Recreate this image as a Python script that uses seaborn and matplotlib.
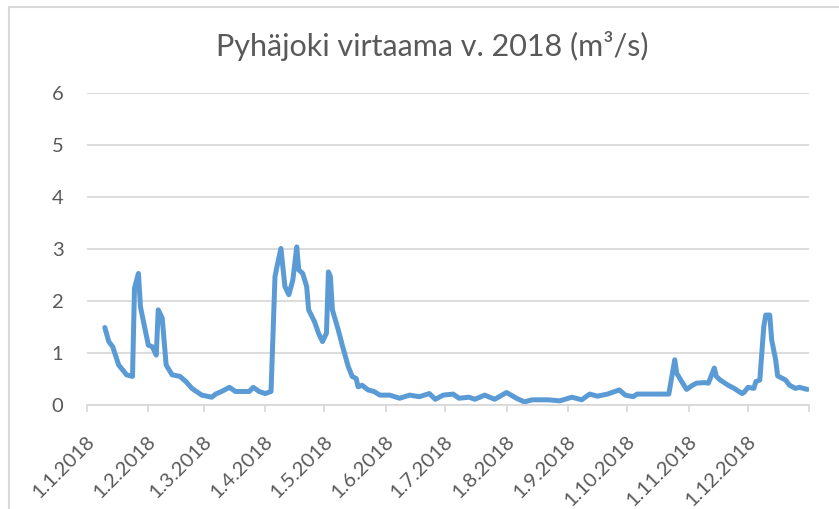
import matplotlib
matplotlib.use("Agg")
import matplotlib.pyplot as plt
import matplotlib.transforms as mtransforms
from matplotlib.lines import Line2D
import pandas as pd
import seaborn as sns

# Daily discharge readings (m³/s), Pyhäjoki 2018
dates = [
    "2018-01-10", "2018-01-12", "2018-01-14", "2018-01-17", "2018-01-21", "2018-01-24",
    "2018-01-25", "2018-01-27", "2018-01-28", "2018-02-01", "2018-02-03", "2018-02-05",
    "2018-02-06", "2018-02-08", "2018-02-10", "2018-02-13", "2018-02-17", "2018-02-20",
    "2018-02-23", "2018-02-28", "2018-03-05", "2018-03-07", "2018-03-10", "2018-03-14",
    "2018-03-17", "2018-03-24", "2018-03-26", "2018-03-29", "2018-04-01", "2018-04-04",
    "2018-04-06", "2018-04-07", "2018-04-09", "2018-04-11", "2018-04-13", "2018-04-15",
    "2018-04-17", "2018-04-18", "2018-04-20", "2018-04-22", "2018-04-23", "2018-04-26",
    "2018-04-28", "2018-04-30", "2018-05-02", "2018-05-03", "2018-05-04", "2018-05-05",
    "2018-05-08", "2018-05-10", "2018-05-13", "2018-05-15", "2018-05-17", "2018-05-18",
    "2018-05-20", "2018-05-23", "2018-05-26", "2018-05-29", "2018-06-03", "2018-06-08",
    "2018-06-13", "2018-06-18", "2018-06-23", "2018-06-26", "2018-06-30", "2018-07-05",
    "2018-07-08", "2018-07-13", "2018-07-16", "2018-07-21", "2018-07-26", "2018-08-01",
    "2018-08-06", "2018-08-10", "2018-08-14", "2018-08-22", "2018-08-28", "2018-09-03",
    "2018-09-08", "2018-09-12", "2018-09-16", "2018-09-21", "2018-09-27", "2018-09-30",
    "2018-10-04", "2018-10-06", "2018-10-22", "2018-10-25", "2018-10-26", "2018-10-29",
    "2018-10-31", "2018-11-03", "2018-11-05", "2018-11-09", "2018-11-11", "2018-11-14",
    "2018-11-15", "2018-11-17", "2018-11-21", "2018-11-24", "2018-11-28", "2018-11-29",
    "2018-12-01", "2018-12-04", "2018-12-05", "2018-12-07", "2018-12-09", "2018-12-10",
    "2018-12-12", "2018-12-13", "2018-12-15", "2018-12-16", "2018-12-20", "2018-12-22",
    "2018-12-25", "2018-12-27", "2018-12-31",
]
flow = [
    1.49, 1.22, 1.12, 0.77, 0.58, 0.55,
    2.25, 2.53, 1.89, 1.15, 1.12, 0.96,
    1.83, 1.67, 0.77, 0.58, 0.55, 0.45,
    0.32, 0.19, 0.15, 0.21, 0.26, 0.34,
    0.26, 0.26, 0.34, 0.26, 0.22, 0.26,
    2.47, 2.66, 3.01, 2.28, 2.12, 2.40,
    3.04, 2.60, 2.53, 2.28, 1.83, 1.60,
    1.38, 1.22, 1.38, 2.56, 2.47, 1.83,
    1.44, 1.15, 0.74, 0.55, 0.51, 0.35,
    0.38, 0.29, 0.26, 0.19, 0.19, 0.13,
    0.19, 0.16, 0.22, 0.11, 0.19, 0.21,
    0.13, 0.15, 0.11, 0.19, 0.11, 0.24,
    0.13, 0.06, 0.10, 0.10, 0.08, 0.15,
    0.10, 0.21, 0.17, 0.21, 0.29, 0.19,
    0.16, 0.21, 0.21, 0.87, 0.61, 0.42,
    0.30, 0.38, 0.42, 0.43, 0.42, 0.71,
    0.55, 0.48, 0.38, 0.32, 0.22, 0.24,
    0.34, 0.32, 0.45, 0.48, 1.51, 1.73,
    1.73, 1.25, 0.87, 0.56, 0.48, 0.38,
    0.32, 0.34, 0.30,
]
month_ticks = pd.date_range("2018-01-01", "2019-01-01", freq="MS")
month_labels = [f"{d.day}.{d.month}.{d.year}" for d in month_ticks[:-1]] + [""]
y_ticks = [0, 1, 2, 3, 4, 5, 6]
title = "Pyhäjoki virtaama v. 2018 (m³/s)"

sns.set_theme(style="white")
plt.rcParams["font.family"] = ["Lato", "DejaVu Sans"]

TEXT = "#595959"
GRID = "#d9d9d9"

df = pd.DataFrame({"pvm": pd.to_datetime(dates), "virtaama": flow})

fig = plt.figure(figsize=(8.39, 5.09), dpi=100)
ax = fig.add_axes([87 / 839, 1 - 405 / 509, (809.3 - 87) / 839, (405 - 93) / 509])

sns.lineplot(data=df, x="pvm", y="virtaama", ax=ax, color="#5b9bd5",
             linewidth=3.6, solid_joinstyle="round", solid_capstyle="round")

ax.set_xlim(month_ticks[0], month_ticks[-1])
ax.set_ylim(0, 6)
ax.set_yticks(y_ticks)
ax.set_yticklabels([str(v) for v in y_ticks])
ax.set_xticks(month_ticks)
ax.set_xticklabels(month_labels, rotation=45, ha="right", va="center",
                   rotation_mode="anchor")
ax.set_xlabel("")
ax.set_ylabel("")

ax.grid(axis="y", color=GRID, linewidth=1.3)
ax.set_axisbelow(True)
for side in ("top", "right", "left"):
    ax.spines[side].set_visible(False)
ax.spines["bottom"].set_color(GRID)
ax.spines["bottom"].set_linewidth(1.3)

ax.tick_params(axis="x", colors=TEXT, labelsize=14.5, length=5, width=1.3,
               color=GRID, pad=19, direction="out", bottom=True)
ax.tick_params(axis="y", colors=TEXT, labelsize=14.5, length=0, pad=17)

# nudge the rotated date labels slightly right of their ticks
shift = mtransforms.ScaledTranslation(5 / 100, 0, fig.dpi_scale_trans)
for lbl in ax.get_xticklabels():
    lbl.set_transform(lbl.get_transform() + shift)

fig.text(432.5 / 839, 1 - 46 / 509, title, ha="center", va="center",
         fontsize=22, color=TEXT)

# chart area frame (top and left edges)
fig.add_artist(Line2D([9 / 839, 1.0], [1 - 7 / 509, 1 - 7 / 509],
                      transform=fig.transFigure, color="#d9d9d9", linewidth=1.5))
fig.add_artist(Line2D([9 / 839, 9 / 839], [0.0, 1 - 7 / 509],
                      transform=fig.transFigure, color="#d9d9d9", linewidth=1.5))

fig.savefig("out.png", dpi=100, facecolor="white")
